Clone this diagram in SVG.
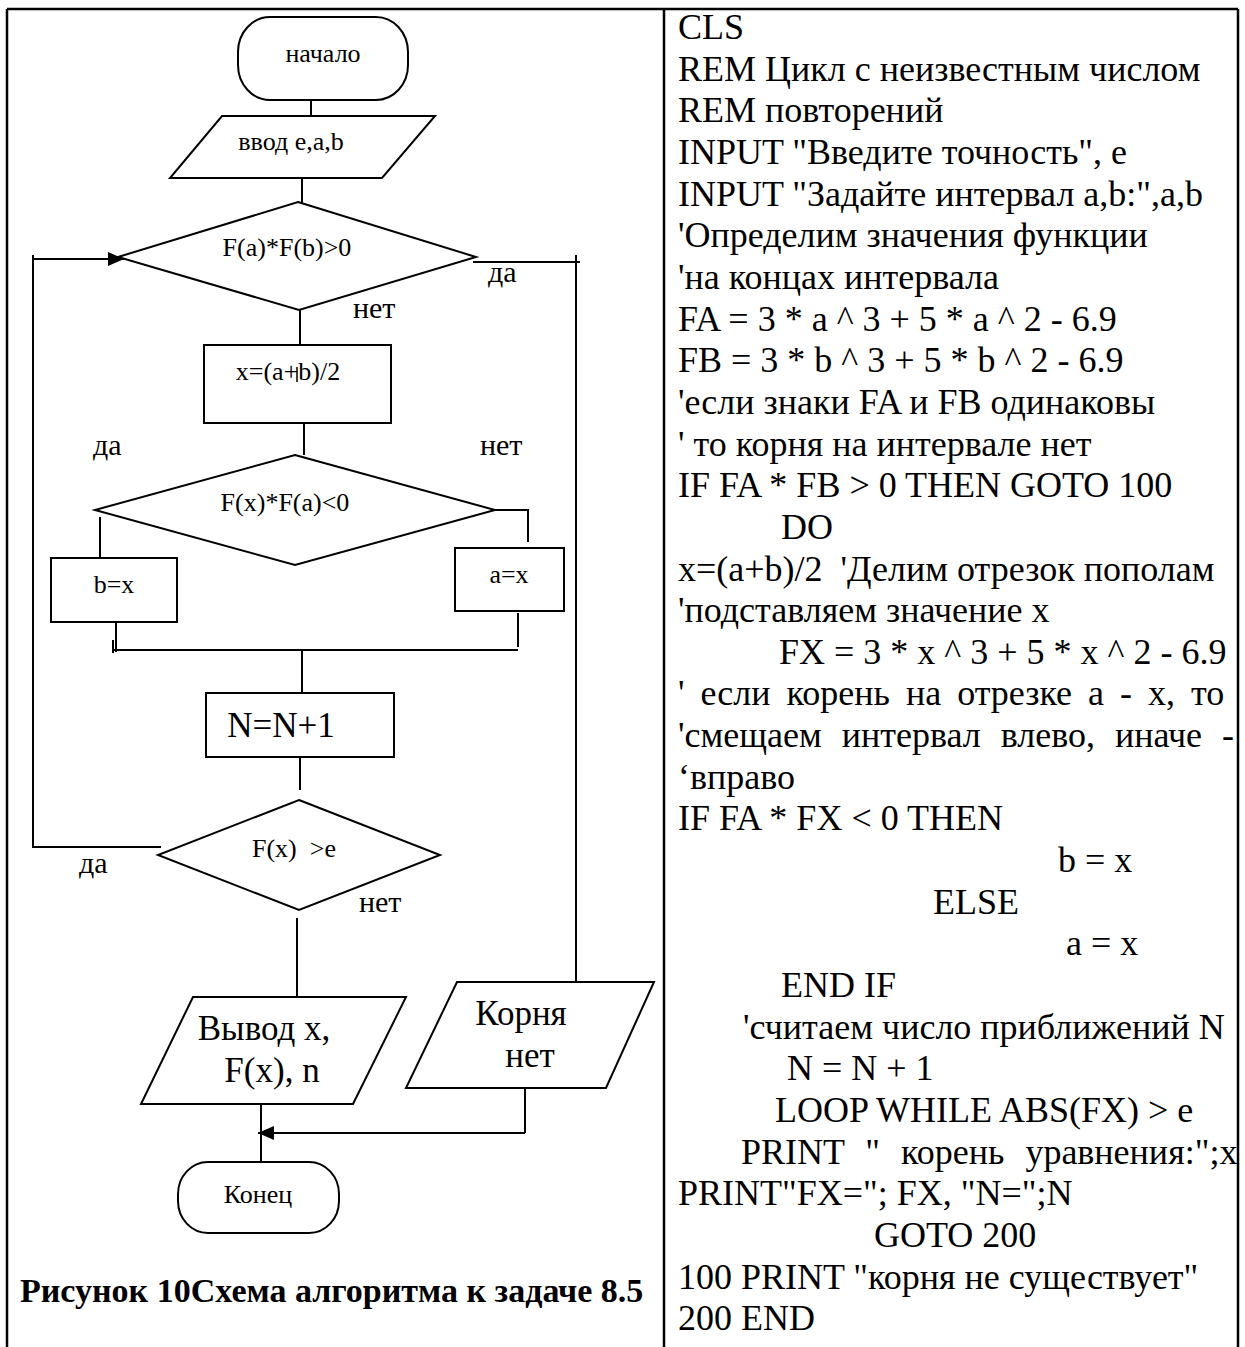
<svg xmlns="http://www.w3.org/2000/svg" width="1245" height="1347" viewBox="0 0 1245 1347">
<style>
.s{fill:#fff;stroke:#000;stroke-width:2}
.c{fill:none;stroke:#000;stroke-width:2}
.f{stroke:#000;stroke-width:2.5}
text{font-family:"Liberation Serif","Times New Roman",serif;fill:#000}
.t{font-size:26px;text-anchor:middle}
.b{font-size:35px;text-anchor:middle}
.l{font-size:30px}
.code{font-size:36px}
.cap{font-size:34px;font-weight:bold}
</style>
<defs>
<marker id="ah" markerUnits="userSpaceOnUse" markerWidth="16" markerHeight="14" viewBox="0 0 16 14" refX="16" refY="7" orient="auto">
<path d="M0,0 L16,7 L0,14 Z" fill="#000"/>
</marker>
</defs>
<rect width="1245" height="1347" fill="#fff"/>
<g id="frame">
<line class="f" x1="7" y1="9" x2="1238" y2="9"/>
<line class="f" x1="7" y1="9" x2="7" y2="1347"/>
<line class="f" x1="1238" y1="9" x2="1238" y2="1347"/>
<line class="f" x1="664" y1="9" x2="664" y2="1347"/>
</g>
<g id="connectors">
<line class="c" x1="311" y1="100" x2="311" y2="116"/>
<line class="c" x1="302" y1="178" x2="302" y2="203"/>
<line class="c" x1="300" y1="310" x2="300" y2="345"/>
<line class="c" x1="304" y1="423" x2="304" y2="455"/>
<line class="c" x1="100" y1="517" x2="100" y2="558"/>
<polyline class="c" points="495,510 528,510 528,542"/>
<line class="c" x1="116" y1="622" x2="116" y2="652"/>
<line class="c" x1="518" y1="613" x2="518" y2="647"/>
<line class="c" x1="113" y1="650" x2="518" y2="650"/>
<line class="c" x1="113" y1="640" x2="113" y2="653"/>
<line class="c" x1="302" y1="650" x2="302" y2="699"/>
<line class="c" x1="300" y1="757" x2="300" y2="790"/>
<polyline class="c" points="161,847 33,847 33,255"/>
<line class="c" x1="33" y1="259" x2="124" y2="259" marker-end="url(#ah)"/>
<line class="c" x1="473" y1="262" x2="580" y2="262"/>
<line class="c" x1="576" y1="255" x2="576" y2="982"/>
<line class="c" x1="297" y1="918" x2="297" y2="997"/>
<line class="c" x1="261" y1="1104" x2="261" y2="1168"/>
<line class="c" x1="525" y1="1088" x2="525" y2="1133"/>
<line class="c" x1="525" y1="1133" x2="258" y2="1133" marker-end="url(#ah)"/>
</g>
<g id="start">
<rect class="s" x="238" y="17" width="170" height="83" rx="32" ry="35"/>
<text class="t" x="323" y="62">начало</text>
</g>
<g id="input">
<polygon class="s" points="222,116 435,116 382,178 170,178"/>
<text class="t" x="291" y="150">ввод e,a,b</text>
</g>
<g id="cond1">
<polygon class="s" points="298,202 476,257 299,310 118,257"/>
<text class="t" x="287" y="256">F(a)*F(b)&gt;0</text>
<text class="l" x="488" y="282">да</text>
<text class="l" x="353" y="318">нет</text>
</g>
<g id="mid">
<rect class="s" x="204" y="345" width="187" height="78"/>
<text class="t" x="288" y="380">x=(a+b)/2</text>
<line x1="297" y1="367" x2="297" y2="382" stroke="#000" stroke-width="1.5"/>
</g>
<g id="cond2">
<polygon class="s" points="295,455 495,510 295,565 95,510"/>
<text class="t" x="285" y="511">F(x)*F(a)&lt;0</text>
<text class="l" x="93" y="455">да</text>
<text class="l" x="480" y="455">нет</text>
</g>
<g id="setb">
<rect class="s" x="51" y="558" width="126" height="64"/>
<text class="t" x="114" y="593">b=x</text>
</g>
<g id="seta">
<rect class="s" x="455" y="548" width="109" height="63"/>
<text class="t" x="509" y="583">a=x</text>
</g>
<g id="count">
<rect class="s" x="206" y="693" width="188" height="64"/>
<text class="b" x="281" y="737">N=N+1</text>
</g>
<g id="cond3">
<polygon class="s" points="299,800 440,855 299,910 158,855"/>
<text class="t" x="294" y="857" xml:space="preserve">F(x)  &gt;e</text>
<text class="l" x="79" y="873">да</text>
<text class="l" x="359" y="912">нет</text>
</g>
<g id="output">
<polygon class="s" points="193,997 406,997 353,1104 141,1104"/>
<text class="b" x="264" y="1040">Вывод x,</text>
<text class="b" x="272" y="1082">F(x), n</text>
</g>
<g id="noroot">
<polygon class="s" points="457,982 654,982 606,1088 406,1088"/>
<text class="b" x="521" y="1025">Корня</text>
<text class="b" x="530" y="1067">нет</text>
</g>
<g id="end">
<rect class="s" x="178" y="1162" width="161" height="71" rx="30" ry="32"/>
<text class="t" x="258" y="1203">Конец</text>
</g>
<text class="cap" x="20" y="1302">Рисунок 10Схема алгоритма к задаче 8.5</text>
<g id="code" class="code">
<text class="code" x="678" y="39">CLS</text>
<text class="code" x="678" y="81">REM Цикл с неизвестным числом</text>
<text class="code" x="678" y="122">REM повторений</text>
<text class="code" x="678" y="164">INPUT "Введите точность", e</text>
<text class="code" x="678" y="206">INPUT "Задайте интервал a,b:",a,b</text>
<text class="code" x="678" y="247">'Определим значения функции</text>
<text class="code" x="678" y="289">'на концах интервала</text>
<text class="code" x="678" y="331">FA = 3 * a ^ 3 + 5 * a ^ 2 - 6.9</text>
<text class="code" x="678" y="372">FB = 3 * b ^ 3 + 5 * b ^ 2 - 6.9</text>
<text class="code" x="678" y="414">'если знаки FA и FB одинаковы</text>
<text class="code" x="678" y="456">' то корня на интервале нет</text>
<text class="code" x="678" y="497">IF FA * FB &gt; 0 THEN GOTO 100</text>
<text class="code" x="781" y="539">DO</text>
<text class="code" x="678" y="581" xml:space="preserve">x=(a+b)/2  'Делим отрезок пополам</text>
<text class="code" x="678" y="622">'подставляем значение x</text>
<text class="code" x="779" y="664">FX = 3 * x ^ 3 + 5 * x ^ 2 - 6.9</text>
<text class="code" x="678" y="705" word-spacing="7">' если корень на отрезке a - x, то</text>
<text class="code" x="678" y="747" word-spacing="11">'смещаем интервал влево, иначе -</text>
<text class="code" x="678" y="789">‘вправо</text>
<text class="code" x="678" y="830">IF FA * FX &lt; 0 THEN</text>
<text class="code" x="1058" y="872">b = x</text>
<text class="code" x="933" y="914">ELSE</text>
<text class="code" x="1066" y="955">a = x</text>
<text class="code" x="781" y="997">END IF</text>
<text class="code" x="743" y="1039">'считаем число приближений N</text>
<text class="code" x="787" y="1080">N = N + 1</text>
<text class="code" x="775" y="1122">LOOP WHILE ABS(FX) &gt; e</text>
<text class="code" x="741" y="1164" word-spacing="12">PRINT " корень уравнения:";x</text>
<text class="code" x="678" y="1205">PRINT"FX="; FX, "N=";N</text>
<text class="code" x="874" y="1247">GOTO 200</text>
<text class="code" x="678" y="1289">100 PRINT "корня не существует"</text>
<text class="code" x="678" y="1330">200 END</text>
</g>
</svg>
